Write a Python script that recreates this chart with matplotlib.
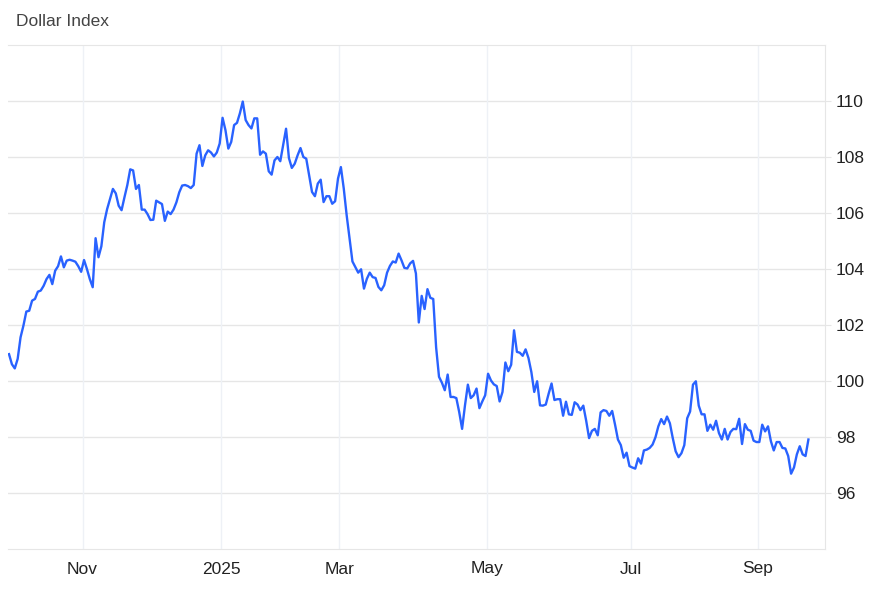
import numpy as np
import matplotlib
matplotlib.use("Agg")
import matplotlib.pyplot as plt

plt.rcParams['font.family'] = ['Liberation Sans', 'DejaVu Sans']

# Dollar index closes, grouped by the month bucket they fall in
oct24 = [100.96, 100.6, 100.45, 100.79, 101.56, 101.98, 102.48, 102.51, 102.87, 102.93,
         103.19, 103.23, 103.4, 103.64, 103.79, 103.46, 103.94, 104.1, 104.45, 104.06,
         104.3, 104.33, 104.3, 104.26, 104.1, 103.9]
nov_dec24 = [104.32, 104.0, 103.64, 103.35, 105.1, 104.42, 104.81, 105.67, 106.14, 106.5,
             106.86, 106.7, 106.26, 106.1, 106.56, 107.0, 107.56, 107.52, 106.86, 107.0,
             106.12, 106.12, 105.96, 105.75, 105.76, 106.44, 106.38, 106.32, 105.72, 106.05,
             105.96, 106.12, 106.38, 106.74, 106.98, 107.0, 106.96, 106.89, 107.0, 108.12,
             108.42, 107.68, 108.06, 108.24, 108.16, 108.02, 108.16, 108.48]
jan_feb25 = [109.4, 108.96, 108.3, 108.54, 109.14, 109.22, 109.56, 109.98, 109.32, 109.14,
             109.02, 109.38, 109.38, 108.08, 108.2, 108.12, 107.49, 107.37, 107.88, 108.0,
             107.85, 108.42, 109.01, 107.96, 107.61, 107.76, 108.06, 108.32, 108.0, 107.94,
             107.35, 106.75, 106.6, 107.05, 107.19, 106.39, 106.6, 106.6, 106.33, 106.42,
             107.23]
mar_apr25 = [107.64, 106.87, 105.92, 105.08, 104.27, 104.07, 103.87, 103.99, 103.3, 103.65,
             103.87, 103.71, 103.68, 103.36, 103.24, 103.42, 103.87, 104.11, 104.27, 104.23,
             104.55, 104.31, 104.04, 104.02, 104.2, 104.29, 103.84, 102.09, 103.04, 102.57,
             103.28, 102.97, 102.93, 101.2, 100.15, 99.94, 99.67, 100.23, 99.43, 99.43,
             99.39, 98.89, 98.29, 99.13, 99.87, 99.39, 99.49, 99.73, 99.03, 99.27,
             99.49]
may_jun25 = [100.26, 100.02, 99.88, 99.82, 99.27, 99.61, 100.66, 100.35, 100.58, 101.81,
             101.04, 101.01, 100.9, 101.13, 100.82, 100.32, 99.61, 99.99, 99.13, 99.12,
             99.16, 99.55, 99.91, 99.32, 99.35, 99.35, 98.76, 99.26, 98.81, 98.79,
             99.24, 99.16, 98.96, 99.12, 98.58, 97.96, 98.22, 98.29, 98.06, 98.88,
             98.96, 98.93, 98.76, 98.93, 98.44, 97.91, 97.71, 97.26, 97.44, 96.96]
jul_aug25 = [96.91, 96.87, 97.24, 97.05, 97.52, 97.55, 97.61, 97.73, 97.99, 98.38,
             98.64, 98.46, 98.73, 98.49, 97.96, 97.49, 97.28, 97.42, 97.71, 98.67,
             98.91, 99.87, 99.99, 99.12, 98.81, 98.81, 98.22, 98.44, 98.26, 98.58,
             98.14, 97.91, 98.29, 97.91, 98.18, 98.29, 98.28, 98.65, 97.75, 98.46,
             98.26, 98.22, 97.87, 97.82]
sep25 = [97.82, 98.44, 98.2, 98.38, 97.85, 97.52, 97.82, 97.82, 97.61, 97.59,
         97.32, 96.69, 96.91, 97.38, 97.67, 97.38, 97.32, 97.91]

chunks = [oct24, nov_dec24, jan_feb25, mar_apr25, may_jun25, jul_aug25, sep25]
month_labels = ['Nov', '2025', 'Mar', 'May', 'Jul', 'Sep']
y_ticks = [96, 98, 100, 102, 104, 106, 108, 110]

values = np.concatenate(chunks)
x = np.arange(len(values))
# month ticks sit where each bucket starts
starts = np.cumsum([len(c) for c in chunks])[:-1] - 0.5

fig = plt.figure(figsize=(8.87, 5.9), dpi=100)
ax = fig.add_axes([8/887, 1-549/590, (825-8)/887, (549-45)/590])

ax.plot(x, values, color='#2962ff', lw=1.7, solid_joinstyle='round')

ax.set_xlim(-0.35, 282.75)
ax.set_ylim(94, 112)
ax.set_xticks(starts)
ax.set_xticklabels(month_labels)
ax.set_yticks(y_ticks)
ax.yaxis.tick_right()

for yv in range(96, 112, 2):
    ax.axhline(yv, color='#e6e6e6', lw=1, zorder=0)
for xv in starts:
    ax.axvline(xv, color='#eef1f6', lw=1, zorder=0)

for side in ['top', 'bottom', 'right']:
    ax.spines[side].set_color('#e6e6e6')
ax.spines['left'].set_visible(False)

ax.tick_params(axis='x', length=0, pad=9, labelsize=12.5, labelcolor='#222222')
ax.tick_params(axis='y', length=4, color='#e6e6e6', pad=4, labelsize=12.5, labelcolor='#222222')

fig.text(16/887, 1-21/590, 'Dollar Index', fontsize=12.5, color='#444444', va='center', ha='left')

fig.savefig('out.png', dpi=100)
